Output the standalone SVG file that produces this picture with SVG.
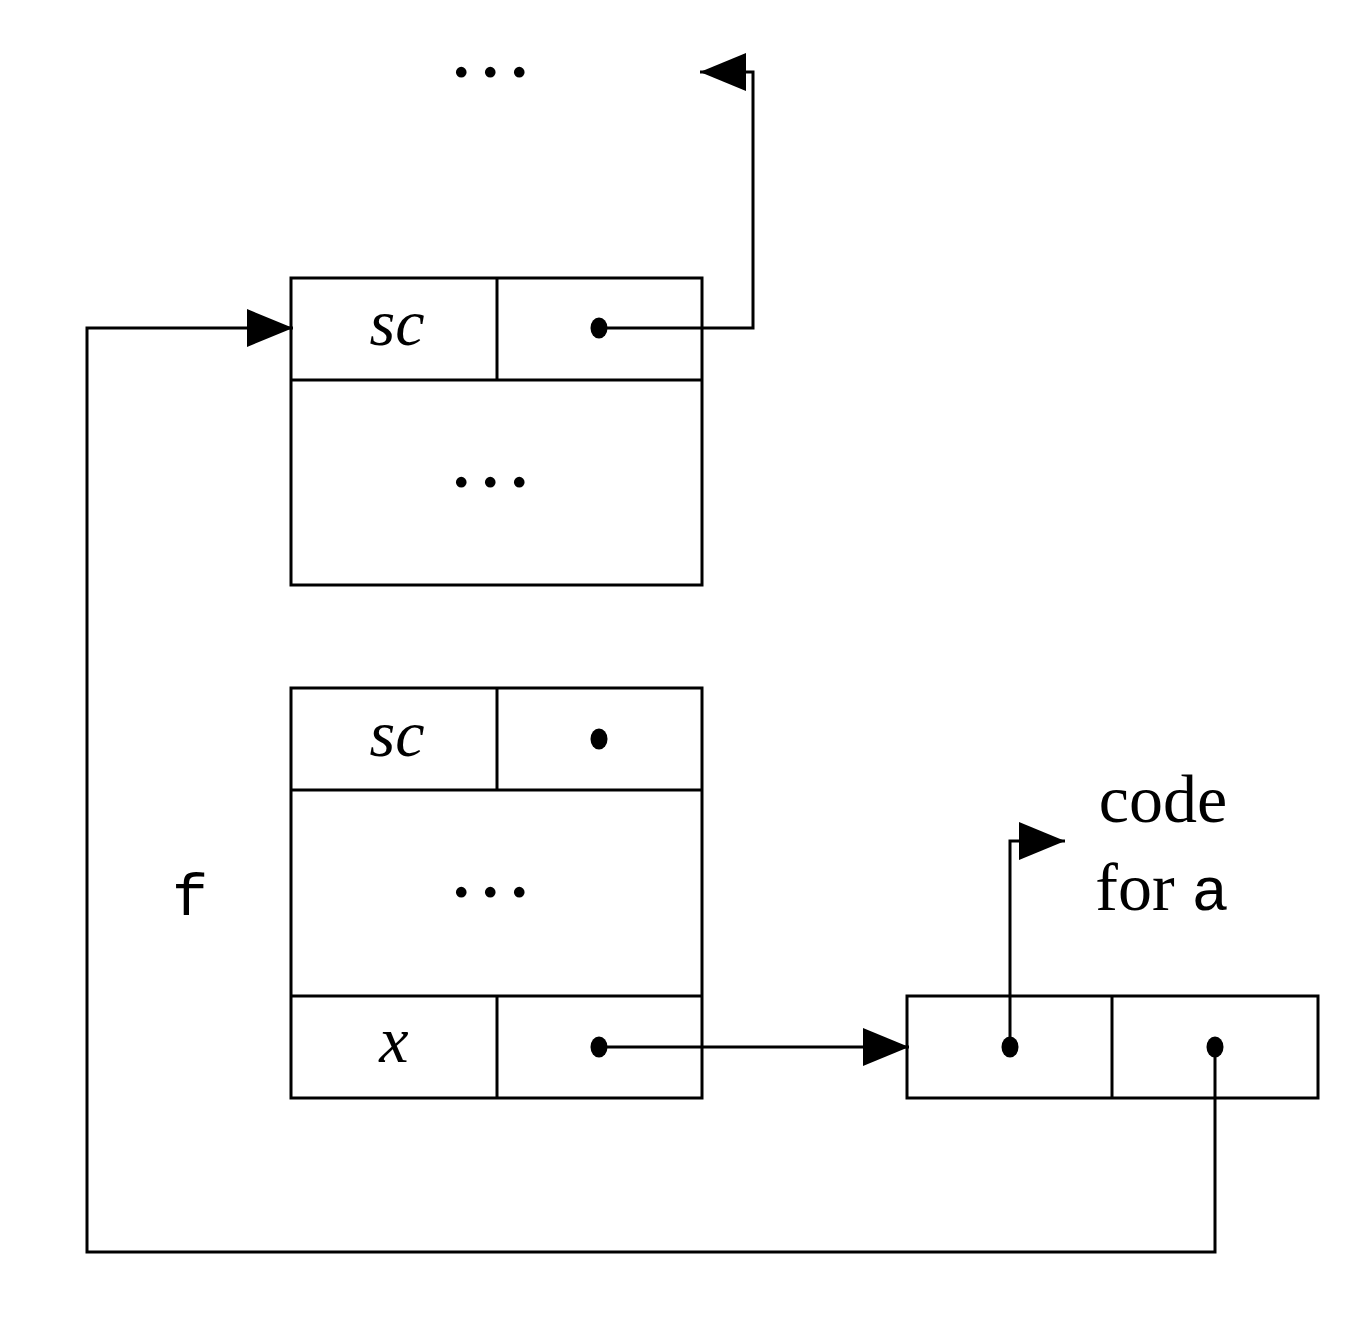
<svg xmlns="http://www.w3.org/2000/svg" width="1368" height="1330" viewBox="0 0 1368 1330">
<style>
.box{fill:none;stroke:#000;stroke-width:3}
.ln{fill:none;stroke:#000;stroke-width:3}
.dot{fill:#000}
.math{font-family:"Liberation Serif",serif;font-style:italic;font-size:66px;text-anchor:middle}
.dots{font-family:"Liberation Serif",serif;font-size:66px;font-weight:bold;letter-spacing:12.5px}
.rm{font-family:"Liberation Serif",serif;font-size:68px;text-anchor:middle}
.tt{font-family:"Liberation Mono",monospace;font-size:60px}
</style>
<defs>
<marker id="ah" markerWidth="48" markerHeight="40" refX="46" refY="19" orient="auto" markerUnits="userSpaceOnUse">
<path d="M0,0 L46,19 L0,38 Z" fill="#000"/>
</marker>
</defs>
<g id="connectors">
<path class="ln" d="M599,328 H753 V72 H700" marker-end="url(#ah)"/>
<path class="ln" d="M1215,1047 V1252 H87 V328 H293" marker-end="url(#ah)"/>
<path class="ln" d="M599,1047 H909" marker-end="url(#ah)"/>
<path class="ln" d="M1010,1047 V841 H1065" marker-end="url(#ah)"/>
</g>
<g id="top-dots"><text class="dots" x="453" y="77">...</text></g>
<g id="frame-top">
<rect class="box" x="291" y="278" width="411" height="307"/>
<line class="box" x1="291" y1="380" x2="702" y2="380"/>
<line class="box" x1="497" y1="278" x2="497" y2="380"/>
<text class="math" x="397" y="345">sc</text>
<ellipse class="dot" cx="599" cy="328" rx="8.5" ry="10.5"/>
<text class="dots" x="453" y="487">...</text>
</g>
<g id="frame-f">
<rect class="box" x="291" y="688" width="411" height="410"/>
<line class="box" x1="291" y1="790" x2="702" y2="790"/>
<line class="box" x1="497" y1="688" x2="497" y2="790"/>
<line class="box" x1="291" y1="996" x2="702" y2="996"/>
<line class="box" x1="497" y1="996" x2="497" y2="1098"/>
<text class="math" x="397" y="756">sc</text>
<ellipse class="dot" cx="599" cy="739" rx="8.5" ry="10.5"/>
<text class="dots" x="453" y="897">...</text>
<text class="math" x="394" y="1062">x</text>
<ellipse class="dot" cx="599" cy="1047" rx="8.5" ry="10.5"/>
</g>
<g id="label-f"><text class="tt" x="190" y="915" text-anchor="middle">f</text></g>
<g id="closure">
<rect class="box" x="907" y="996" width="411" height="102"/>
<line class="box" x1="1112" y1="996" x2="1112" y2="1098"/>
<ellipse class="dot" cx="1010" cy="1047" rx="8.5" ry="10.5"/>
<ellipse class="dot" cx="1215" cy="1047" rx="8.5" ry="10.5"/>
</g>
<g id="code-label">
<text class="rm" x="1163" y="822">code</text>
<text class="rm" x="1162" y="910">for <tspan class="tt" style="font-size:62px">a</tspan></text>
</g>
</svg>
